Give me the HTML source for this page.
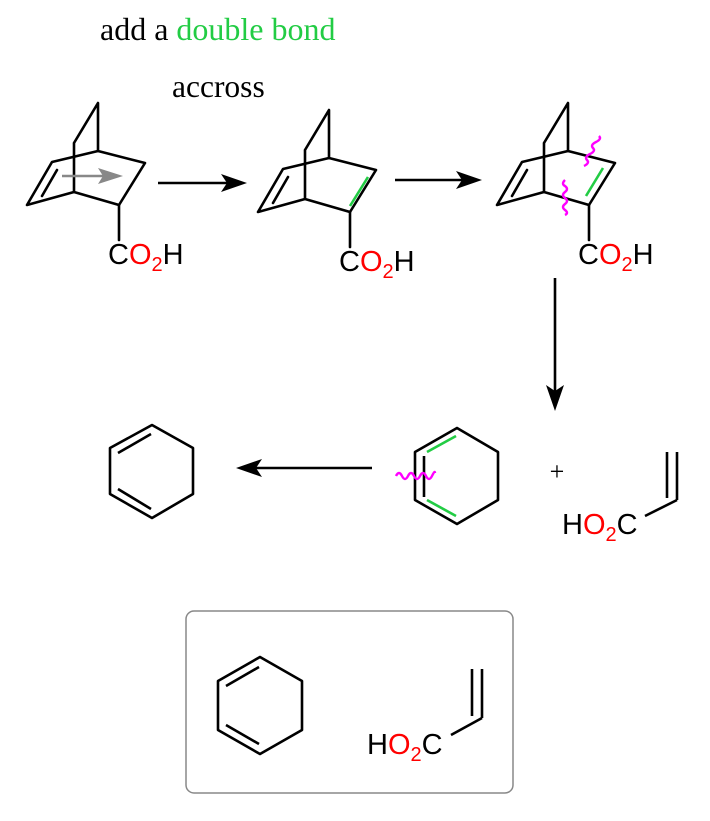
<!DOCTYPE html>
<html><head><meta charset="utf-8"><style>html,body{margin:0;padding:0;background:#fff}svg{display:block}</style></head><body>
<svg width="710" height="821" viewBox="0 0 710 821" xmlns="http://www.w3.org/2000/svg">
<defs>
<g id="bic" fill="none" stroke="#000" stroke-width="2.6" stroke-linejoin="round" stroke-linecap="round">
<polyline points="74,143 98,103 98,151 145,163 119,205 74,192 74,143"/>
<polyline points="98,151 52,162 27,205 74,192"/>
<line x1="57" y1="170" x2="42" y2="196"/>
<line x1="119" y1="205" x2="119" y2="240"/>
</g>
<g id="co2h" font-family="Liberation Sans, sans-serif" font-size="29">
<text x="0" y="0">C<tspan fill="#f00">O<tspan font-size="20" dy="7">2</tspan></tspan><tspan dy="-7">H</tspan></text>
</g>
<g id="arrowhead"><polygon points="0,0 -26,-9 -20,0 -26,9" fill="#000"/></g>
</defs>
<text x="100" y="40" font-family="Liberation Serif, serif" font-size="32">add a <tspan fill="#22cc44">double bond</tspan></text>
<text x="172" y="97" font-family="Liberation Serif, serif" font-size="31.5">accross</text>

<use href="#bic"/>
<use href="#co2h" x="108" y="264"/>
<line x1="62" y1="176" x2="108" y2="176" stroke="#888" stroke-width="2.6"/>
<polygon points="123,176 98,168 103,176 98,184" fill="#888"/>

<line x1="158" y1="183" x2="230" y2="183" stroke="#000" stroke-width="2.6"/>
<use href="#arrowhead" x="247" y="183"/>

<use href="#bic" x="231" y="7"/>
<use href="#co2h" x="339" y="271"/>
<line x1="368" y1="177" x2="350" y2="206" stroke="#22cc44" stroke-width="2.6"/>

<line x1="395" y1="180" x2="465" y2="180" stroke="#000" stroke-width="2.6"/>
<use href="#arrowhead" x="482" y="180"/>

<use href="#bic" x="470" y="0"/>
<use href="#co2h" x="578" y="264"/>
<line x1="603" y1="168" x2="586" y2="196" stroke="#22cc44" stroke-width="2.6"/>
<path d="M584,166 q6,-3 3,-6 q-3,-3 3,-6 q6,-3 3,-6 q-3,-3 3,-6 q6,-3 3,-6" fill="none" stroke="#ff00ff" stroke-width="2.4"/>
<path d="M565,180 q-4,4 0,6 q4,3 0,6 q-4,3 0,6 q4,3 0,6 q-4,3 0,6 q4,3 0,5" fill="none" stroke="#ff00ff" stroke-width="2.4"/>

<line x1="555" y1="278" x2="555" y2="395" stroke="#000" stroke-width="2.6"/>
<polygon points="555,411 546,385 555,391 564,385" fill="#000"/>

<g fill="none" stroke="#000" stroke-width="2.6" stroke-linejoin="round">
<polygon points="152,425 193,448 193,494 152,518 110,494 110,448"/>
<line x1="118" y1="453" x2="151" y2="434"/>
<line x1="118" y1="489" x2="151" y2="509"/>
</g>

<line x1="372" y1="468" x2="253" y2="468" stroke="#000" stroke-width="2.6"/>
<polygon points="236,468 262,459 256,468 262,477" fill="#000"/>

<g fill="none" stroke-width="2.6" stroke-linejoin="round">
<polygon points="457,428 498,452 498,500 457,524 415,500 415,452" stroke="#000"/>
<line x1="424" y1="456" x2="424" y2="497" stroke="#000"/>
<line x1="427" y1="452" x2="456" y2="436" stroke="#22cc44"/>
<line x1="427" y1="500" x2="456" y2="516" stroke="#22cc44"/>
<path d="M396,476 q3,-6 6,0 q3,6 6,0 q3,-6 6,0 q3,6 6,0 q3,-6 6,0 q3,6 6,0 q3,-6 3,-3" stroke="#ff00ff" stroke-width="2.4"/>
</g>

<text x="557" y="480" text-anchor="middle" font-family="Liberation Serif, serif" font-size="26">+</text>

<g fill="none" stroke="#000" stroke-width="2.6">
<line x1="667" y1="452" x2="667" y2="498"/>
<line x1="677" y1="452" x2="677" y2="500"/>
<line x1="677" y1="500" x2="645" y2="516"/>
</g>
<text x="562" y="534" font-family="Liberation Sans, sans-serif" font-size="29">H<tspan fill="#f00">O<tspan font-size="20" dy="7">2</tspan></tspan><tspan dy="-7">C</tspan></text>

<rect x="186" y="611" width="327" height="182" rx="8" fill="none" stroke="#888" stroke-width="1.5"/>
<g fill="none" stroke="#000" stroke-width="2.6" stroke-linejoin="round">
<polygon points="260,657 302,681 302,730 260,754 218,730 218,681"/>
<line x1="226" y1="686" x2="259" y2="667"/>
<line x1="226" y1="725" x2="259" y2="744"/>
<line x1="472" y1="669" x2="472" y2="716"/>
<line x1="482" y1="669" x2="482" y2="718"/>
<line x1="482" y1="718" x2="451" y2="735"/>
</g>
<text x="367" y="754" font-family="Liberation Sans, sans-serif" font-size="29">H<tspan fill="#f00">O<tspan font-size="20" dy="7">2</tspan></tspan><tspan dy="-7">C</tspan></text>
</svg>
</body></html>
